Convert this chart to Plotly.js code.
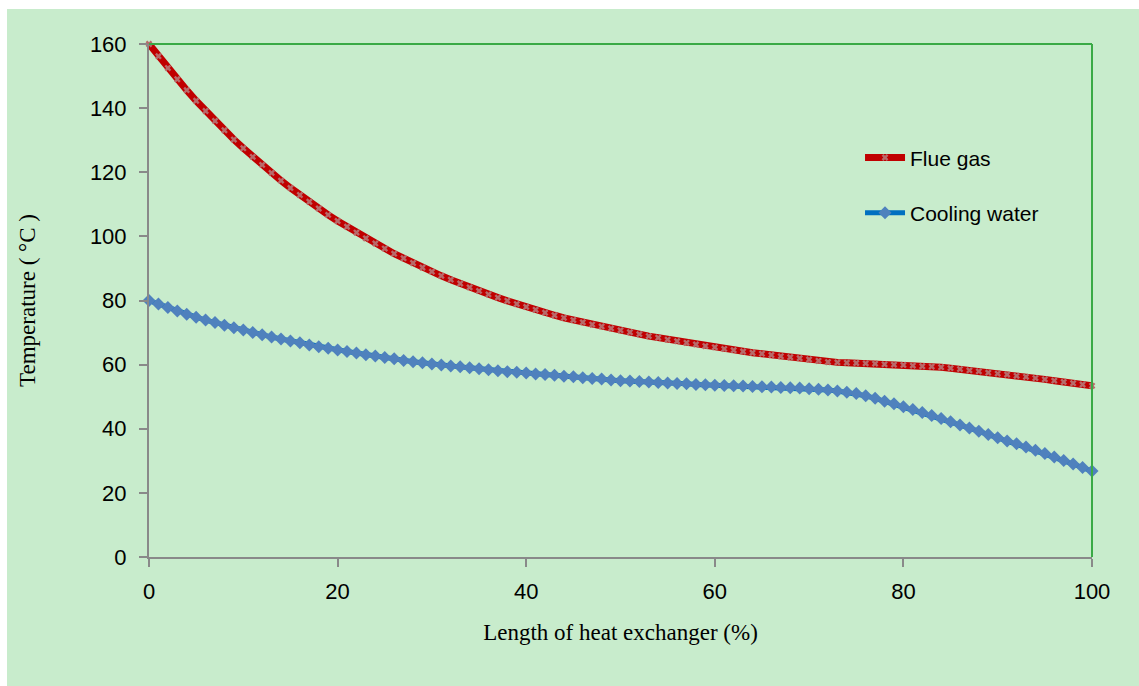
<!DOCTYPE html>
<html>
<head>
<meta charset="utf-8">
<script src="https://cdn.plot.ly/plotly-3.0.1.min.js"></script>
<style>
html,body{margin:0;padding:0;background:#ffffff;width:1139px;height:686px;overflow:hidden;}
#chart{position:absolute;left:7px;top:9px;width:1132px;height:677px;}
</style>
</head>
<body>
<div id="chart"></div>
<script>
const lengthPct = [0,1,2,3,4,5,6,7,8,9,10,11,12,13,14,15,16,17,18,19,20,21,22,23,24,25,26,27,28,29,30,31,32,33,34,35,36,37,38,39,40,41,42,43,44,45,46,47,48,49,50,51,52,53,54,55,56,57,58,59,60,61,62,63,64,65,66,67,68,69,70,71,72,73,74,75,76,77,78,79,80,81,82,83,84,85,86,87,88,89,90,91,92,93,94,95,96,97,98,99,100];

const flueGas = [160.0,156.2,152.5,149.0,145.6,142.3,139.1,136.0,133.1,130.2,
127.5,124.8,122.3,119.8,117.4,115.1,112.9,110.8,108.7,106.7,
104.8,103.0,101.2,99.4,97.8,96.2,94.6,93.2,91.7,90.3,
89.0,87.7,86.5,85.3,84.1,83.0,81.9,80.9,79.9,78.9,
78.0,77.1,76.2,75.4,74.6,73.9,73.2,72.5,71.9,71.3,
70.7,70.1,69.5,68.9,68.4,67.8,67.3,66.8,66.3,65.8,
65.4,64.9,64.5,64.1,63.7,63.4,63.0,62.6,62.3,62.0,
61.6,61.2,60.8,60.7,60.6,60.5,60.4,60.3,60.1,60.0,
59.9,59.7,59.5,59.4,59.2,58.9,58.6,58.2,57.9,57.5,
57.2,56.9,56.5,56.2,55.8,55.4,55.0,54.6,54.2,53.8,53.4];

const coolingWater = [80.0,78.9,77.8,76.7,75.7,74.8,73.9,73.1,72.3,71.5,
70.8,70.0,69.3,68.6,68.0,67.4,66.8,66.1,65.6,65.1,
64.6,64.1,63.6,63.1,62.7,62.2,61.8,61.3,60.9,60.6,
60.2,59.9,59.6,59.3,59.0,58.7,58.4,58.1,57.8,57.6,
57.4,57.1,56.9,56.7,56.4,56.2,55.9,55.7,55.5,55.2,
55.0,54.9,54.7,54.6,54.4,54.3,54.1,54.0,53.8,53.7,
53.6,53.5,53.4,53.3,53.2,53.1,53.0,52.9,52.8,52.7,
52.5,52.3,52.1,51.8,51.4,51.0,50.3,49.5,48.6,47.8,
46.9,46.0,45.1,44.1,43.2,42.2,41.2,40.2,39.2,38.2,
37.2,36.2,35.3,34.3,33.3,32.3,31.2,30.1,29.0,27.9,26.8];

const seriesNames = ["Flue gas", "Cooling water"];
const xTicks = [0,20,40,60,80,100];
const yTicks = [0,20,40,60,80,100,120,140,160];

const bg = "#C8ECCC";

const traces = [
  {
    x: lengthPct, y: flueGas, name: seriesNames[0], type: "scatter", mode: "lines+markers",
    legendgroup: "a", cliponaxis: false,
    line: {color: "#C00000", width: 7},
    marker: {symbol: "x", size: 6, color: "#B86A6A", line: {width: 0}}
  },
  {
    x: lengthPct, y: coolingWater, name: seriesNames[1], type: "scatter", mode: "lines+markers",
    legendgroup: "b", cliponaxis: false,
    line: {color: "#0070C0", width: 5},
    marker: {symbol: "diamond", size: 10, color: "#4F81BD", line: {width: 0}}
  }
];

const layout = {
  width: 1132, height: 677,
  paper_bgcolor: bg, plot_bgcolor: bg,
  margin: {l: 142, r: 47, t: 35, b: 129},
  font: {family: "Liberation Sans, Arial, sans-serif", color: "#000000"},
  showlegend: true,
  legend: {
    x: 0.754, y: 0.818, xanchor: "left", yanchor: "top",
    bgcolor: "rgba(0,0,0,0)", borderwidth: 0,
    traceorder: "grouped", tracegroupgap: 25,
    font: {size: 21, family: "Liberation Sans, Arial, sans-serif"},
    itemwidth: 40
  },
  xaxis: {
    range: [0, 100], tickvals: xTicks, ticktext: xTicks.map(String),
    showgrid: false, zeroline: false,
    showline: true, linecolor: "#898989", linewidth: 2,
    ticks: "outside", ticklen: 8, tickcolor: "#898989", tickwidth: 2,
    ticklabelstandoff: 6,
    tickfont: {size: 22},
    title: {text: "Length of heat exchanger (%)", font: {family: "Liberation Serif, Times New Roman, serif", size: 23}, standoff: 20}
  },
  yaxis: {
    range: [0, 160], tickvals: yTicks, ticktext: yTicks.map(String),
    showgrid: false, zeroline: false,
    showline: true, linecolor: "#898989", linewidth: 2,
    ticks: "outside", ticklen: 8, tickcolor: "#898989", tickwidth: 2,
    ticklabelstandoff: 8,
    tickfont: {size: 22},
    title: {text: "Temperature ( °C )", font: {family: "Liberation Serif, Times New Roman, serif", size: 23}, standoff: 48}
  },
  shapes: [
    {type: "line", xref: "paper", yref: "paper", x0: 0, x1: 1, y0: 1, y1: 1, line: {color: "#3AAA46", width: 2}},
    {type: "line", xref: "paper", yref: "paper", x0: 1, x1: 1, y0: 0, y1: 1, line: {color: "#3AAA46", width: 2}}
  ]
};

Plotly.newPlot("chart", traces, layout, {displayModeBar: false, staticPlot: true});
</script>
</body>
</html>
